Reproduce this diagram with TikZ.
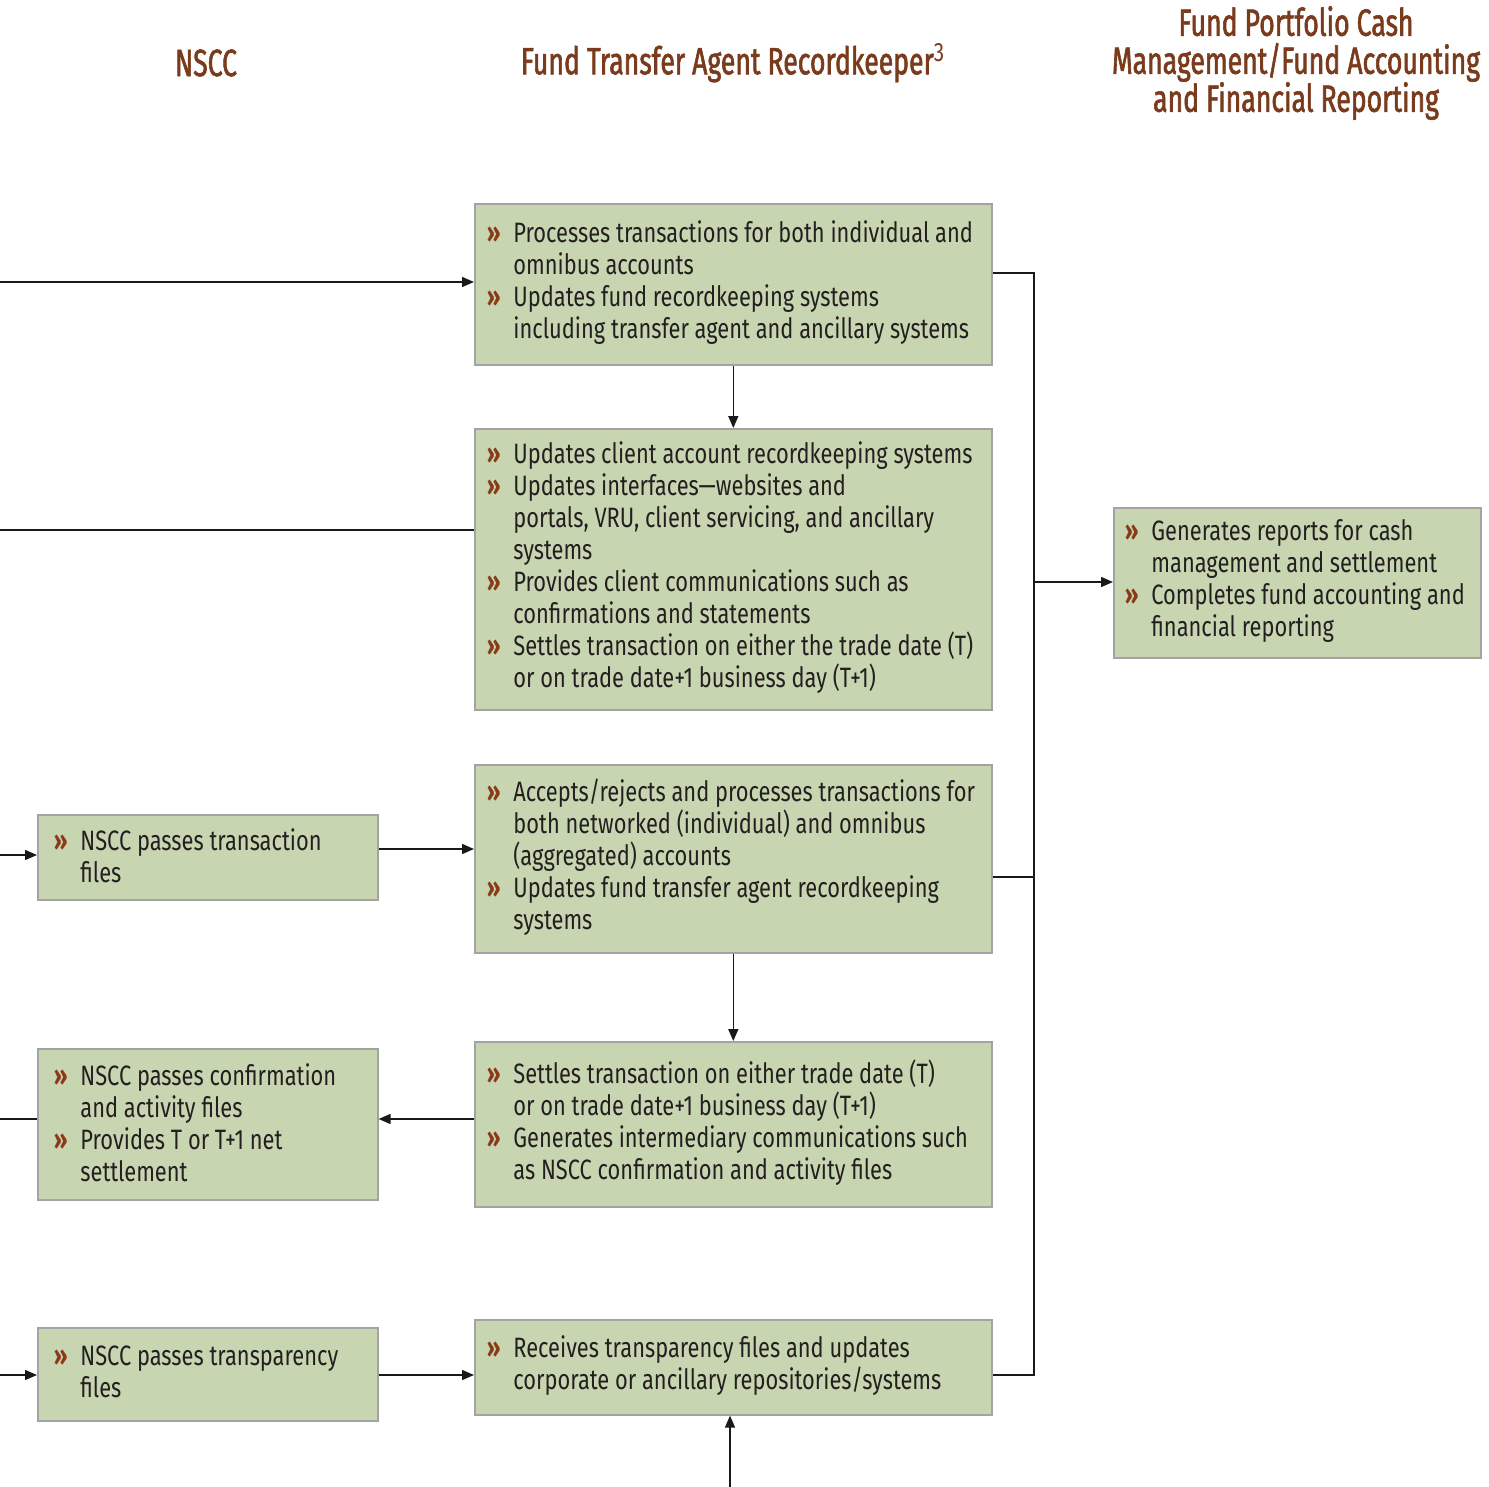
\documentclass[tikz,border=0pt]{standalone}
\usepackage{fontspec}
\usetikzlibrary{arrows.meta}
\setmainfont[FakeStretch=0.78]{Fira Sans}
\newfontfamily\hdfont[FakeStretch=0.70,FakeBold=1.6]{Fira Sans}
\definecolor{boxfill}{HTML}{C8D5B1}
\definecolor{boxline}{HTML}{A3A3A3}
\definecolor{hdc}{HTML}{7A3B1C}
\definecolor{bulc}{HTML}{8A3A18}
\definecolor{textc}{HTML}{231F20}
\newcommand\bul{\llap{\textcolor{bulc}{\bfseries »}\hspace{6.5pt}}}
\begin{document}
\begin{tikzpicture}[x=0.5pt,y=-0.5pt,
  box/.style={draw=boxline, fill=boxfill, line width=0.8pt, rectangle, inner sep=0pt, anchor=north west},
  txt/.style={align=left, inner sep=0pt, anchor=west, text=textc, font=\fontsize{14}{16}\selectfont},
  hd/.style={font=\hdfont\fontsize{19}{19}\selectfont, text=hdc, align=center},
  conn/.style={draw=black!90, line width=0.75pt},
  arr/.style={conn, -{Triangle[length=6pt,width=5pt]}}]
\useasboundingbox (0,0) rectangle (1489,1487);
% headers
\node[hd] (h1) at (206,63) {NSCC};
\node[hd] (h2) at (733,63) {Fund Transfer Agent Recordkeeper\textsuperscript{\fontspec[FakeStretch=0.78]{Fira Sans}3}};
\node[hd] (h3) at (1296,63) {Fund Portfolio Cash\\Management/Fund Accounting\\and Financial Reporting};
% boxes
\node[box, minimum width=258.5pt, minimum height=80.5pt] (A) at (474,203) {};
\node[box, minimum width=258.5pt, minimum height=140.5pt] (B) at (474,428) {};
\node[box, minimum width=258.5pt, minimum height=94pt] (C) at (474,764) {};
\node[box, minimum width=258.5pt, minimum height=82.5pt] (D) at (474,1041) {};
\node[box, minimum width=258.5pt, minimum height=47.5pt] (E) at (474,1319) {};
\node[box, minimum width=170pt, minimum height=42.5pt] (N1) at (37,814) {};
\node[box, minimum width=170pt, minimum height=75.5pt] (N2) at (37,1048) {};
\node[box, minimum width=170pt, minimum height=46.5pt] (N3) at (37,1327) {};
\node[box, minimum width=183.5pt, minimum height=75pt] (R) at (1113,507) {};
% texts
\node[txt] (At) at ([xshift=19.5pt,yshift=1pt]A.west) {\bul Processes transactions for both individual and\\omnibus accounts\\\bul Updates fund recordkeeping systems\\including transfer agent and ancillary systems};
\node[txt] (Bt) at ([xshift=19.5pt,yshift=1pt]B.west) {\bul Updates client account recordkeeping systems\\\bul Updates interfaces—websites and\\portals, VRU, client servicing, and ancillary\\systems\\\bul Provides client communications such as\\confirmations and statements\\\bul Settles transaction on either the trade date (T)\\or on trade date+1 business day (T+1)};
\node[txt] (Ct) at ([xshift=19.5pt,yshift=1pt]C.west) {\bul Accepts/rejects and processes transactions for\\both networked (individual) and omnibus\\(aggregated) accounts\\\bul Updates fund transfer agent recordkeeping\\systems};
\node[txt] (Dt) at ([xshift=19.5pt,yshift=1pt]D.west) {\bul Settles transaction on either trade date (T)\\or on trade date+1 business day (T+1)\\\bul Generates intermediary communications such\\as NSCC confirmation and activity files};
\node[txt] (Et) at ([xshift=19.5pt,yshift=1pt]E.west) {\bul Receives transparency files and updates\\corporate or ancillary repositories/systems};
\node[txt] (N1t) at ([xshift=21.5pt,yshift=1pt]N1.west) {\bul NSCC passes transaction\\files};
\node[txt] (N2t) at ([xshift=21.5pt,yshift=1pt]N2.west) {\bul NSCC passes confirmation\\and activity files\\\bul Provides T or T+1 net\\settlement};
\node[txt] (N3t) at ([xshift=21.5pt,yshift=1pt]N3.west) {\bul NSCC passes transparency\\files};
\node[txt] (Rt) at ([xshift=19pt,yshift=1pt]R.west) {\bul Generates reports for cash\\management and settlement\\\bul Completes fund accounting and\\financial reporting};
% connectors
\coordinate (inA) at (0,282);
\draw[arr] (inA) -- (inA -| A.west);
\coordinate (inB) at (0,530);
\draw[conn] (inB) -- (inB -| B.west);
\draw[arr] (A.south) -- (B.north);
\draw[arr] (C.south) -- (D.north);
\coordinate (inN1) at (0,855);
\draw[arr] (inN1) -- (inN1 -| N1.west);
\coordinate (c1) at (377,849);
\draw[arr] (c1 -| N1.east) -- (c1 -| C.west);
\coordinate (d1) at (474,1119);
\draw[arr] (d1 -| D.west) -- (d1 -| N2.east);
\coordinate (outN2) at (0,1119);
\draw[conn] (outN2 -| N2.west) -- (outN2);
\coordinate (inN3) at (0,1375);
\draw[arr] (inN3) -- (inN3 -| N3.west);
\coordinate (e1) at (377,1375);
\draw[arr] (e1 -| N3.east) -- (e1 -| E.west);
\coordinate (bot) at (730,1487);
\draw[arr] (bot) -- (bot |- E.south);
\coordinate (busTop) at (1034,273);
\coordinate (busBot) at (1034,1375);
\coordinate (busC) at (1034,877);
\coordinate (busR) at (1034,582);
\draw[conn] (busTop -| A.east) -- (busTop) -- (busBot) -- (busBot -| E.east);
\draw[conn] (busC -| C.east) -- (busC);
\draw[arr] (busR) -- (busR -| R.west);
\end{tikzpicture}
\end{document}
